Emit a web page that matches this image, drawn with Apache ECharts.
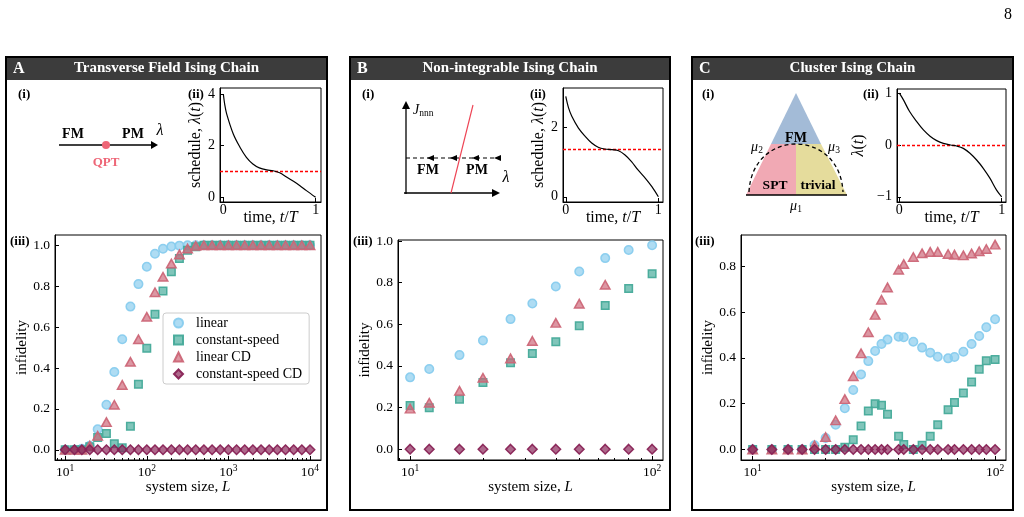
<!DOCTYPE html>
<html>
<head>
<meta charset="utf-8">
<script src="https://cdn.jsdelivr.net/npm/echarts@6/dist/echarts.min.js"></script>
<style>
html, body { margin: 0; padding: 0; background: #fff; }
#chart { width: 1024px; height: 517px; }
</style>
</head>
<body>
<div id="chart"></div>
<script>
// ---- data ----
// A: transverse field Ising chain
var L_A = [10, 13, 16, 20, 25, 32, 40, 50, 63, 79, 100, 126, 158, 200, 251, 316, 398, 501, 631, 794,
           1000, 1259, 1585, 1995, 2512, 3162, 3981, 5012, 6310, 7943, 10000];
var linA = [0, 0, 0.005, 0.02, 0.10, 0.22, 0.38, 0.54, 0.70, 0.81, 0.895, 0.958, 0.983, 0.994, 0.998, 1, 1,
            1, 1, 1, 1, 1, 1, 1, 1, 1, 1, 1, 1, 1, 1];
var csA = [0, 0, 0, 0.015, 0.06, 0.08, 0.03, 0.01, 0.115, 0.32, 0.496, 0.662, 0.776, 0.87, 0.935, 0.976, 0.992,
           1, 1, 1, 1, 1, 1, 1, 1, 1, 1, 1, 1, 1, 1];
var lcdA = [0, 0, 0, 0.02, 0.068, 0.135, 0.22, 0.317, 0.43, 0.54, 0.65, 0.77, 0.846, 0.91, 0.955, 0.984, 0.997,
            1, 1, 1, 1, 1, 1, 1, 1, 1, 1, 1, 1, 1, 1];
var csdA = [0, 0, 0, 0, 0, 0, 0, 0, 0, 0, 0, 0, 0, 0, 0, 0, 0, 0, 0, 0, 0, 0, 0, 0, 0, 0, 0, 0, 0, 0, 0];

// B: non-integrable Ising chain
var L_B = [10, 12, 16, 20, 26, 32, 40, 50, 64, 80, 100];
var linB = [0.345, 0.385, 0.452, 0.522, 0.625, 0.70, 0.782, 0.854, 0.918, 0.957, 0.98];
var csB = [0.21, 0.199, 0.24, 0.32, 0.415, 0.46, 0.516, 0.593, 0.69, 0.772, 0.843];
var lcdB = [0.195, 0.223, 0.28, 0.343, 0.436, 0.52, 0.607, 0.699, 0.79, null, null];
var csdB = [0, 0, 0, 0, 0, 0, 0, 0, 0, 0, 0];

// C: cluster Ising chain
var L_C = [10, 12, 14, 16, 18, 20, 22, 24, 26, 28, 30, 32, 34, 36, 40, 42, 46, 50, 54, 58, 64, 68, 74, 80, 86, 92, 100];
var linC = [0, 0, 0, 0, 0.018, 0.05, 0.108, 0.18, 0.26, 0.328, 0.386, 0.43, 0.461, 0.48, 0.493, 0.49, 0.471,
            0.445, 0.423, 0.405, 0.398, 0.404, 0.427, 0.461, 0.496, 0.534, 0.569];
var csC = [0, 0, 0, 0, 0, 0, 0, 0.01, 0.042, 0.102, 0.168, 0.2, 0.193, 0.154, 0.058, 0.022, 0, 0.018, 0.058,
           0.108, 0.174, 0.205, 0.247, 0.295, 0.351, 0.388, 0.393];
var lcdC = [0, 0, 0, 0, 0.018, 0.054, 0.127, 0.22, 0.32, 0.42, 0.512, 0.588, 0.654, 0.708, 0.785, 0.81, 0.841,
            0.857, 0.863, 0.863, 0.854, 0.851, 0.848, 0.856, 0.866, 0.876, 0.895];
var csdC = [0, 0, 0, 0, 0, 0, 0, 0, 0, 0, 0, 0, 0, 0, 0, 0, 0, 0, 0, 0, 0, 0, 0, 0, 0, 0, 0];

// schedules (ii)
var tA = [0, 0.015, 0.036, 0.108, 0.18, 0.25, 0.32, 0.39, 0.47, 0.54, 0.61, 0.68, 0.76, 0.83, 0.9, 1.0];
var lamA = [4.0, 3.6, 3.23, 2.45, 1.94, 1.55, 1.29, 1.14, 1.06, 1.03, 0.95, 0.8, 0.62, 0.45, 0.26, 0];
var tB = [0, 0.03, 0.065, 0.137, 0.21, 0.28, 0.35, 0.42, 0.5, 0.57, 0.64, 0.71, 0.78, 0.86, 0.93, 1.0];
var lamB = [2.88, 2.55, 2.31, 1.97, 1.73, 1.54, 1.42, 1.37, 1.35, 1.32, 1.2, 1.01, 0.77, 0.53, 0.29, 0];
var tC = [0, 0.04, 0.10, 0.17, 0.235, 0.3, 0.365, 0.43, 0.5, 0.56, 0.625, 0.69, 0.755, 0.82, 0.886, 0.95, 1.0];
var lamC = [1.0, 0.87, 0.645, 0.45, 0.29, 0.17, 0.084, 0.03, 0, -0.02, -0.065, -0.16, -0.29, -0.45, -0.645, -0.87, -1.0];
var critA = 1.0, critB = 1.35, critC = 0;   // red dashed line

// tick labels
var decadesA = [10, 100, 1000, 10000];
var decadesBC = [10, 100];
var yTicksAB = [0, 0.2, 0.4, 0.6, 0.8, 1.0];
var yTicksC = [0, 0.2, 0.4, 0.6, 0.8];
var tTicks = [0, 1];
var lamTicksA = [0, 2, 4];
var lamTicksB = [0, 2];
var lamTicksC = [-1, 0, 1];

var seriesNames = ['linear', 'constant-speed', 'linear CD', 'constant-speed CD'];
var panelTitles = ['Transverse Field Ising Chain', 'Non-integrable Ising Chain', 'Cluster Ising Chain'];
var panelLetters = ['A', 'B', 'C'];

// ---- styling ----
var FONT = '"Liberation Serif", "Times New Roman", serif';
var marks = [
  {symbol: 'circle', size: 8.5, rgb: '136,204,238'},
  {symbol: 'rect', size: 7.5, rgb: '68,170,153'},
  {symbol: 'triangle', size: [9.5, 8.5], rgb: '204,102,119'},
  {symbol: 'diamond', size: 9.5, rgb: '136,34,85'}
];

function pairs(xs, ys) {
  var out = [];
  for (var i = 0; i < xs.length; i++) if (ys[i] != null) out.push([xs[i], ys[i]]);
  return out;
}
function minorTicks(lo, hi) {
  var out = [];
  for (var e = 0; e < 5; e++) for (var m = 2; m < 10; m++) {
    var v = m * Math.pow(10, e);
    if (v > lo && v < hi) out.push(v);
  }
  return out;
}
var italic = {fontStyle: 'italic', fontFamily: FONT, fontSize: 15, color: '#000'};
var nameStyle = {fontFamily: FONT, fontSize: 15, color: '#000', rich: {i: italic}};
var italicIn = {fontStyle: 'italic', fontFamily: FONT, fontSize: 16, color: '#000'};
var nameStyleIn = {fontFamily: FONT, fontSize: 16, color: '#000', rich: {i: italicIn}};
var powRich = {
  b: {fontFamily: FONT, fontSize: 13.5, color: '#000', lineHeight: 18},
  s: {fontFamily: FONT, fontSize: 9.5, color: '#000', verticalAlign: 'top', lineHeight: 10}
};

// ---- grids: 3 main plots then 3 insets ----
var grids = [
  {left: 55, top: 235, width: 266, height: 225},
  {left: 398, top: 240, width: 265, height: 220},
  {left: 741, top: 235, width: 265, height: 225},
  {left: 220, top: 88, width: 101, height: 114},
  {left: 563, top: 88, width: 100, height: 114},
  {left: 897, top: 89, width: 109, height: 113}
].map(function (g) {
  g.show = true; g.borderColor = '#000'; g.borderWidth = 1; g.backgroundColor = 'transparent';
  g.containLabel = false; g.outerBoundsMode = 'none';
  return g;
});

function logX(grid, lo, hi, major, gap) {
  return [{
    type: 'log', logBase: 10, gridIndex: grid, min: lo, max: hi, position: 'bottom',
    name: 'system size, {i|L}', nameLocation: 'middle', nameGap: gap, nameTextStyle: nameStyle,
    axisLine: {show: true, onZero: false, lineStyle: {color: '#000', width: 1}},
    axisTick: {show: true, inside: true, length: 4, customValues: major, lineStyle: {color: '#000', width: 1}},
    axisLabel: {customValues: major, margin: 3, rich: powRich,
      formatter: function (v) { return '{b|10}{s|' + Math.round(Math.log(v) / Math.LN10) + '}'; }},
    splitLine: {show: false}
  }, {
    type: 'log', logBase: 10, gridIndex: grid, min: lo, max: hi, position: 'bottom',
    axisLine: {show: false, onZero: false},
    axisTick: {show: true, inside: true, length: 2, customValues: minorTicks(lo, hi), lineStyle: {color: '#000', width: 1}},
    axisLabel: {show: false}, splitLine: {show: false}
  }];
}
function linY(grid, lo, hi, ticks, name, gap, fmt, ns) {
  return {
    type: 'value', gridIndex: grid, min: lo, max: hi,
    name: name, nameLocation: 'middle', nameGap: gap, nameTextStyle: ns || nameStyle,
    axisLine: {show: true, onZero: false, lineStyle: {color: '#000', width: 1}},
    axisTick: {show: true, inside: true, length: 4, customValues: ticks, lineStyle: {color: '#000', width: 1}},
    axisLabel: {customValues: ticks, margin: 5, fontFamily: FONT, fontSize: 13.5, color: '#000', formatter: fmt},
    splitLine: {show: false}
  };
}
function timeX(grid, lo, hi) {
  return {
    type: 'value', gridIndex: grid, min: lo, max: hi,
    name: 'time, {i|t}/{i|T}', nameLocation: 'middle', nameGap: 8, nameMoveOverlap: false,
    nameTextStyle: nameStyleIn,
    axisLine: {show: true, onZero: false, lineStyle: {color: '#000', width: 1}},
    axisTick: {show: true, inside: true, length: 4, customValues: tTicks, lineStyle: {color: '#000', width: 1}},
    axisLabel: {customValues: tTicks, margin: 1, fontFamily: FONT, fontSize: 14, color: '#000'},
    splitLine: {show: false}
  };
}
var fmt1 = function (v) { return v.toFixed(1); };
var fmtInt = function (v) { return v < 0 ? '\u2212' + Math.abs(v) : String(v); };

var xAxes = [].concat(
  logX(0, Math.pow(10, 0.875), Math.pow(10, 4.135), decadesA, 20),
  logX(1, Math.pow(10, 0.95), Math.pow(10, 2.045), decadesBC, 20),
  logX(2, Math.pow(10, 0.952), Math.pow(10, 2.045), decadesBC, 20),
  [timeX(3, -0.036, 1.058), timeX(4, -0.03, 1.05), timeX(5, -0.023, 1.042)]
);
var yAxes = [
  linY(0, -0.05, 1.05, yTicksAB, 'infidelity', 24, fmt1),
  linY(1, -0.052, 1.005, yTicksAB, 'infidelity', 24, fmt1),
  linY(2, -0.046, 0.937, yTicksC, 'infidelity', 25, fmt1),
  linY(3, -0.18, 4.23, lamTicksA, 'schedule, {i|\u03bb}({i|t})', 14, fmtInt, nameStyleIn),
  linY(4, -0.15, 3.12, lamTicksB, 'schedule, {i|\u03bb}({i|t})', 11, fmtInt, nameStyleIn),
  linY(5, -1.1, 1.08, lamTicksC, '{i|\u03bb}({i|t})', 30, fmtInt, nameStyleIn)
];
yAxes.slice(3).forEach(function (a) { a.axisLabel.fontSize = 14; });

// ---- series ----
var series = [];
var mainData = [
  [L_A, [linA, csA, lcdA, csdA]],
  [L_B, [linB, csB, lcdB, csdB]],
  [L_C, [linC, csC, lcdC, csdC]]
];
mainData.forEach(function (pd, p) {
  pd[1].forEach(function (vals, k) {
    var m = marks[k];
    series.push({
      type: 'scatter', name: seriesNames[k], xAxisIndex: p * 2, yAxisIndex: p,
      data: pairs(pd[0], vals), symbol: m.symbol, symbolSize: m.size, z: 3 + k,
      itemStyle: {color: 'rgba(' + m.rgb + ',0.68)', borderColor: 'rgba(' + m.rgb + ',0.95)', borderWidth: 1.5, opacity: 1},
      silent: true
    });
  });
});
[[tA, lamA, critA], [tB, lamB, critB], [tC, lamC, critC]].forEach(function (s, p) {
  series.push({
    type: 'line', xAxisIndex: 6 + p, yAxisIndex: 3 + p, data: pairs(s[0], s[1]),
    smooth: 0.35, showSymbol: false, silent: true, z: 4,
    lineStyle: {color: '#000', width: 1.2},
    markLine: {silent: true, symbol: 'none', label: {show: false}, animation: false, z: 3,
      itemStyle: {color: '#ff0000'}, emphasis: {disabled: true},
      lineStyle: {color: '#ff0000', type: [3, 2], width: 1.3, opacity: 1}, data: [{yAxis: s[2]}]}
  });
});

// ---- panel frames, headers, sketches (i) ----
var g = [];
function T(x, y, text, o) {
  o = o || {};
  var st = {
    text: text, x: x, y: y, fontFamily: FONT, fontSize: o.size || 14,
    fontWeight: o.bold ? 'bold' : 'normal', fontStyle: o.italic ? 'italic' : 'normal',
    fill: o.color || '#000', textFill: o.color || '#000',
    align: o.align || 'center', textAlign: o.align || 'center',
    verticalAlign: 'middle', textVerticalAlign: 'middle'
  };
  if (o.rich) st.rich = o.rich;
  g.push({type: 'text', z: 100, silent: true, style: st});
}
function line(x1, y1, x2, y2, st) {
  g.push({type: 'line', z: 90, silent: true, shape: {x1: x1, y1: y1, x2: x2, y2: y2},
    style: Object.assign({stroke: '#000', lineWidth: 1.3}, st || {})});
}
function poly(pts, fill) {
  g.push({type: 'polygon', z: 90, silent: true, shape: {points: pts}, style: {fill: fill, stroke: null}});
}
var subRich = {
  i: {fontStyle: 'italic', fontFamily: FONT, fontSize: 14, fill: '#000', textFill: '#000', color: '#000', lineHeight: 16},
  s: {fontFamily: FONT, fontSize: 9.5, fill: '#000', textFill: '#000', color: '#000', verticalAlign: 'bottom', lineHeight: 9}
};

var panels = [[6, 327], [350, 670], [692, 1013]];
panels.forEach(function (pp, p) {
  var x0 = pp[0], w = pp[1] - pp[0];
  g.push({type: 'rect', z: 80, silent: true, shape: {x: x0, y: 57, width: w, height: 23}, style: {fill: '#3c3c3c'}});
  g.push({type: 'rect', z: 95, silent: true, shape: {x: x0, y: 57, width: w, height: 453},
    style: {fill: null, stroke: '#000', lineWidth: 2}});
  T(x0 + 7, 68.5, panelLetters[p], {bold: true, size: 16, color: '#fff', align: 'left'});
  T(x0 + w / 2, 68.5, panelTitles[p], {bold: true, size: 15, color: '#fff'});
});
// panel labels
[[18, 95, '(i)'], [188, 95, '(ii)'], [10, 242, '(iii)'],
 [362, 95, '(i)'], [530, 95, '(ii)'], [353, 242, '(iii)'],
 [702, 95, '(i)'], [863, 95, '(ii)'], [695, 242, '(iii)']].forEach(function (l) {
  T(l[0], l[1], l[2], {bold: true, size: 13, align: 'left'});
});
T(1012, 15, '8', {size: 16, align: 'right'});

// A (i): phase line with QPT
line(59, 145, 151, 145);
poly([[151, 141], [158, 145], [151, 149]], '#000');
g.push({type: 'circle', z: 92, silent: true, shape: {cx: 106, cy: 145, r: 4}, style: {fill: '#EE6677'}});
T(73, 134, 'FM', {bold: true, size: 14});
T(133, 134, 'PM', {bold: true, size: 14});
T(160, 131, '\u03bb', {italic: true, size: 16});
T(106, 163, 'QPT', {bold: true, size: 13, color: '#EE6677'});

// B (i): J_nnn vs lambda plane
line(406, 194, 406, 108);
poly([[402, 109], [406, 101], [410, 109]], '#000');
line(404, 193, 493, 193);
poly([[492, 189], [500, 193], [492, 197]], '#000');
line(451, 193, 473, 105, {stroke: '#EE4455', lineWidth: 1.2});
line(406, 158, 498, 158, {lineDash: [4, 3], lineWidth: 1.2});
[427, 450, 472, 494].forEach(function (x) { poly([[x, 158], [x + 7, 155], [x + 7, 161]], '#000'); });
T(413, 110, '{i|J}{s|nnn}', {align: 'left', rich: subRich});
T(428, 170, 'FM', {bold: true, size: 14});
T(477, 170, 'PM', {bold: true, size: 14});
T(506, 178, '\u03bb', {italic: true, size: 16});

// C (i): triangle phase diagram
poly([[796, 93], [771, 144], [821, 144]], '#A3BBD7');
poly([[771, 144], [796, 144], [796, 195], [746, 195]], '#F1A9B4');
poly([[796, 144], [821, 144], [847, 195], [796, 195]], '#E5DC9C');
line(746, 195, 847, 195, {lineWidth: 1.5});
g.push({type: 'bezierCurve', z: 91, silent: true,
  shape: {x1: 749, y1: 192, x2: 843, y2: 192, cpx1: 752, cpy1: 128, cpx2: 840, cpy2: 128},
  style: {stroke: '#000', fill: null, lineWidth: 1.3, lineDash: [4, 3]}});
T(796, 138, 'FM', {bold: true, size: 14});
T(775, 186, 'SPT', {bold: true, size: 13.5});
T(818, 186, 'trivial', {bold: true, size: 13.5});
T(757, 147, '{i|\u03bc}{s|2}', {rich: subRich});
T(834, 147, '{i|\u03bc}{s|3}', {rich: subRich});
T(796, 206, '{i|\u03bc}{s|1}', {rich: subRich});

// ---- legend (panel A only) ----
var legendRich = {a: {fontFamily: FONT, fontSize: 14, color: '#000', padding: [0, 0, 0, 8]}};

var option = {
  animation: false,
  backgroundColor: '#fff',
  grid: grids,
  xAxis: xAxes,
  yAxis: yAxes,
  legend: {
    data: seriesNames, orient: 'vertical', left: 163, top: 313,
    itemWidth: 9, itemHeight: 9, itemGap: 3, padding: [3, 7, 3, 10],
    backgroundColor: 'rgba(255,255,255,0.8)', borderColor: '#cccccc', borderWidth: 1, borderRadius: 3,
    formatter: function (n) { return '{a|' + n + '}'; },
    textStyle: {fontFamily: FONT, fontSize: 14, color: '#000', rich: legendRich},
    selectedMode: false
  },
  graphic: {elements: g},
  series: series
};

var myChart = echarts.init(document.getElementById('chart'));
myChart.setOption(option);
</script>
</body>
</html>
